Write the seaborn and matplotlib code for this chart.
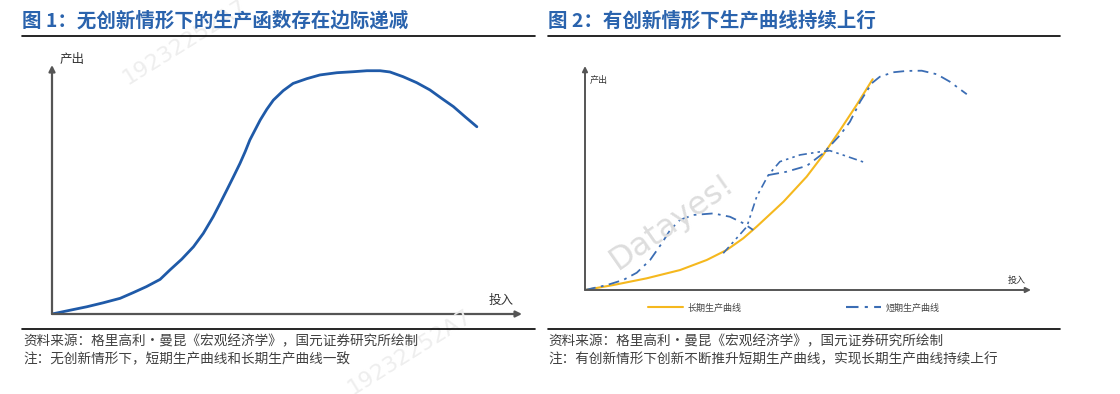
import matplotlib
matplotlib.use("Agg")
import matplotlib.pyplot as plt
from matplotlib.lines import Line2D
import seaborn as sns

# left chart: production function without innovation (input/output on 0-100 scale)
x_base = [0, 3.8, 7.4, 10.9, 14.5, 17.3, 20.1, 23.0, 25.1, 27.6, 30.1, 32.2, 34.3,
          35.7, 37.2, 38.6, 40.0, 41.1, 42.1, 43.2, 44.3, 45.7, 47.1, 49.2, 51.3,
          54.2, 57.0, 60.6, 64.1, 67.0, 69.8, 71.9, 74.7, 77.6, 80.4, 82.9, 85.4,
          87.9, 90.4]
y_base = [0, 1.5, 2.9, 4.5, 6.3, 8.6, 11.0, 13.9, 17.7, 22.0, 27.0, 32.4, 39.1,
          44.2, 49.8, 55.1, 60.5, 65.2, 69.9, 73.9, 77.9, 82.2, 85.9, 89.7, 92.6,
          94.5, 96.0, 96.9, 97.3, 97.7, 97.7, 97.2, 95.3, 92.9, 90.0, 86.6, 83.3,
          79.2, 75.2]

# right chart: long-run curve
x_long = [0, 6.3, 13.8, 21.3, 27.3, 31.8, 35.5, 38.5, 44.5, 49.7, 53.4, 57.2, 60.9, 64.5]
y_long = [0, 2.2, 5.2, 8.9, 13.4, 17.9, 23.1, 28.3, 39.4, 50.6, 60.3, 71.4, 82.6, 94.1]

# right chart: three short-run curves
x_s1 = [0, 4.9, 8.6, 11.6, 14.6, 17.2, 19.1, 21.3, 24.3, 28.8, 32.5, 35.5, 37.7]
y_s1 = [0, 2.2, 4.5, 7.7, 13.4, 20.8, 26.8, 31.3, 33.5, 34.2, 32.7, 29.8, 26.8]
x_s2 = [31.0, 36.3, 38.5, 41.1, 43.7, 48.2, 52.7, 54.9, 57.2, 63.2]
y_s2 = [16.4, 28.3, 41.7, 51.3, 57.3, 60.3, 61.7, 62.2, 60.7, 56.6]
x_s3 = [41.1, 45.2, 49.7, 53.4, 57.2, 59.4, 61.7, 64.3, 66.1, 69.1, 72.1, 75.5,
        78.9, 81.8, 85.6]
y_s3 = [51.3, 52.8, 55.4, 61.0, 69.2, 75.1, 84.1, 92.3, 95.2, 97.2, 97.8, 97.9,
        96.3, 93.0, 87.4]

title1 = "图 1：无创新情形下的生产函数存在边际递减"
title2 = "图 2：有创新情形下生产曲线持续上行"
src = "资料来源：格里高利•曼昆《宏观经济学》，国元证券研究所绘制"
note1 = "注：无创新情形下，短期生产曲线和长期生产曲线一致"
note2 = "注：有创新情形下创新不断推升短期生产曲线，实现长期生产曲线持续上行"

sns.set_theme(style="white")
plt.rcParams['font.family'] = ['Noto Sans CJK SC', 'DejaVu Sans']

W, H = 1120, 394
fig = plt.figure(figsize=(W / 100, H / 100), dpi=100)


def fx(px):
    return px / W


def fy(py):
    return 1 - py / H


def draw_axes(ax, lw, head):
    for s in ax.spines.values():
        s.set_visible(False)
    ax.set_xticks([])
    ax.set_yticks([])
    ax.set_xlim(0, 100)
    ax.set_ylim(0, 100)
    ax.patch.set_alpha(0)
    arrow = dict(arrowstyle=f"-|>,head_length={head},head_width={head * 0.5}",
                 color="#555555", lw=lw, shrinkA=0, shrinkB=0)
    ax.annotate("", xy=(1, 0), xytext=(0, 0), xycoords="axes fraction",
                arrowprops=arrow)
    ax.annotate("", xy=(0, 1), xytext=(0, 0), xycoords="axes fraction",
                arrowprops=arrow)


# watermarks
fig.text(fx(672), fy(222), "Datayes!", fontsize=23, color="#dddddd",
         rotation=35, ha="center", va="center", family="DejaVu Sans", zorder=0)
fig.text(fx(185), fy(42), "19232252A7", fontsize=16, color="#eeeeee",
         rotation=32, ha="center", va="center", family="DejaVu Sans", zorder=0)
fig.text(fx(410), fy(352), "19232252A7", fontsize=16, color="#eeeeee",
         rotation=32, ha="center", va="center", family="DejaVu Sans", zorder=0)

# left panel
ax1 = fig.add_axes([fx(52), fy(314), fx(470), 249 / H])
draw_axes(ax1, 1.6, 0.3)
sns.lineplot(x=x_base, y=y_base, sort=False, color="#1f5aa8", lw=2, ax=ax1)

# right panel
ax2 = fig.add_axes([fx(585), fy(290), fx(446), 224 / H])
draw_axes(ax2, 1.4, 0.25)
blue = "#3b6db4"
sns.lineplot(x=x_long, y=y_long, sort=False, color="#f5b81e", lw=1.5, ax=ax2)
sns.lineplot(x=x_s1, y=y_s1, sort=False, color=blue, lw=1.3, ax=ax2,
             linestyle=(0, (6, 3, 1.5, 3)))
sns.lineplot(x=x_s2, y=y_s2, sort=False, color=blue, lw=1.2, ax=ax2,
             linestyle=(0, (5, 2.5, 1.5, 2.5, 1.5, 2.5)))
sns.lineplot(x=x_s3, y=y_s3, sort=False, color=blue, lw=1.3, ax=ax2,
             linestyle=(0, (6, 3, 1.5, 3)))

handles = [Line2D([], [], color="#f5b81e", lw=1.5),
           Line2D([], [], color=blue, lw=1.5, linestyle=(0, (6, 3, 1.5, 3)))]
ax2.legend(handles, ["长期生产曲线", "短期生产曲线"], ncol=2, frameon=False,
           fontsize=6.5, handlelength=3.9, columnspacing=11.5, handletextpad=0.5,
           loc="center left", bbox_to_anchor=((648 - 585 - 8) / 446, -0.08),
           labelcolor="#444444")

# axis labels
fig.text(fx(60), fy(60), "产出", fontsize=9, color="#333333", va="center")
fig.text(fx(489), fy(300), "投入", fontsize=9, color="#333333", va="center")
fig.text(fx(590), fy(80), "产出", fontsize=6.5, color="#333333", va="center")
fig.text(fx(1008), fy(280), "投入", fontsize=6.5, color="#333333", va="center")

# titles and rules
tcolor = "#2a63ad"
fig.text(fx(22), fy(21), title1, fontsize=14, color=tcolor, weight="bold",
         va="center")
fig.text(fx(548), fy(21), title2, fontsize=14, color=tcolor, weight="bold",
         va="center")
for x0, x1 in [(22, 535), (548, 1060)]:
    fig.add_artist(Line2D([fx(x0), fx(x1)], [fy(36), fy(36)], color="black", lw=1.2))
    fig.add_artist(Line2D([fx(x0), fx(x1)], [fy(329), fy(329)], color="black", lw=1.2))

# source notes
for x0, note in [(23, note1), (548, note2)]:
    fig.text(fx(x0), fy(341), src, fontsize=9.8, color="#404040", va="center")
    fig.text(fx(x0), fy(359), note, fontsize=9.8, color="#404040", va="center")

fig.savefig("out.png", dpi=100)
